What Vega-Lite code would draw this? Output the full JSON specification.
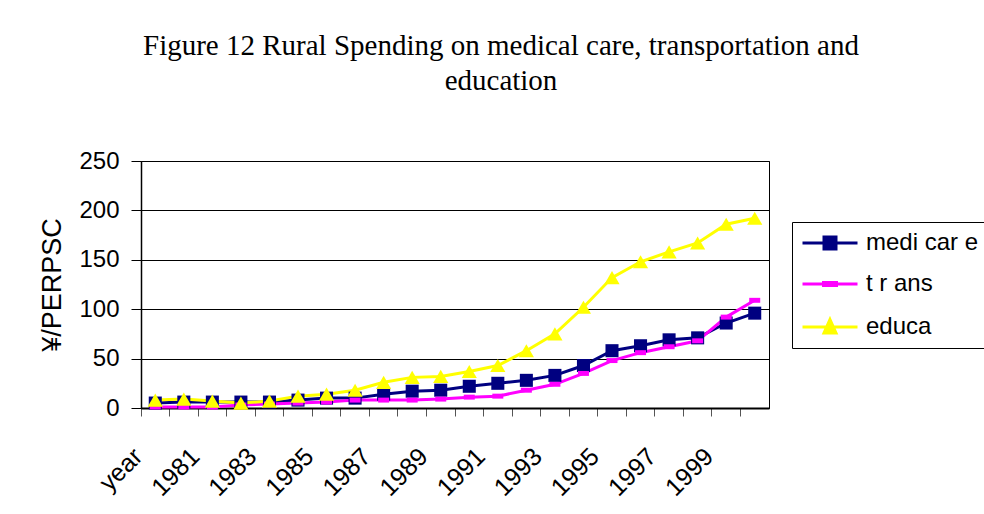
{
  "$schema": "https://vega.github.io/schema/vega-lite/v6.json",
  "width": 628,
  "height": 247,
  "padding": {"left": 38, "top": 32, "right": 0, "bottom": 0},
  "background": "white",
  "title": {
    "text": ["Figure 12 Rural Spending on medical care, transportation and", "education"],
    "font": "Liberation Serif",
    "fontSize": 29,
    "fontWeight": "normal",
    "lineHeight": 35,
    "color": "black",
    "anchor": "middle",
    "dx": 46,
    "offset": 53
  },
  "data": {
    "values": [
      {"year": "year", "series": "medi car e", "value": 5},
      {"year": "1980", "series": "medi car e", "value": 6},
      {"year": "1981", "series": "medi car e", "value": 6},
      {"year": "1982", "series": "medi car e", "value": 6},
      {"year": "1983", "series": "medi car e", "value": 6},
      {"year": "1984", "series": "medi car e", "value": 8},
      {"year": "1985", "series": "medi car e", "value": 10},
      {"year": "1986", "series": "medi car e", "value": 10},
      {"year": "1987", "series": "medi car e", "value": 14},
      {"year": "1988", "series": "medi car e", "value": 17},
      {"year": "1989", "series": "medi car e", "value": 18},
      {"year": "1990", "series": "medi car e", "value": 22},
      {"year": "1991", "series": "medi car e", "value": 25},
      {"year": "1992", "series": "medi car e", "value": 28},
      {"year": "1993", "series": "medi car e", "value": 33},
      {"year": "1994", "series": "medi car e", "value": 43},
      {"year": "1995", "series": "medi car e", "value": 58},
      {"year": "1996", "series": "medi car e", "value": 63},
      {"year": "1997", "series": "medi car e", "value": 69},
      {"year": "1998", "series": "medi car e", "value": 71},
      {"year": "1999", "series": "medi car e", "value": 86},
      {"year": "2000", "series": "medi car e", "value": 96},
      {"year": "year", "series": "t r ans", "value": 1},
      {"year": "1980", "series": "t r ans", "value": 1},
      {"year": "1981", "series": "t r ans", "value": 1},
      {"year": "1982", "series": "t r ans", "value": 3},
      {"year": "1983", "series": "t r ans", "value": 4},
      {"year": "1984", "series": "t r ans", "value": 5},
      {"year": "1985", "series": "t r ans", "value": 6},
      {"year": "1986", "series": "t r ans", "value": 8},
      {"year": "1987", "series": "t r ans", "value": 8},
      {"year": "1988", "series": "t r ans", "value": 8},
      {"year": "1989", "series": "t r ans", "value": 9},
      {"year": "1990", "series": "t r ans", "value": 11},
      {"year": "1991", "series": "t r ans", "value": 12},
      {"year": "1992", "series": "t r ans", "value": 18},
      {"year": "1993", "series": "t r ans", "value": 24},
      {"year": "1994", "series": "t r ans", "value": 35},
      {"year": "1995", "series": "t r ans", "value": 48},
      {"year": "1996", "series": "t r ans", "value": 56},
      {"year": "1997", "series": "t r ans", "value": 62},
      {"year": "1998", "series": "t r ans", "value": 68},
      {"year": "1999", "series": "t r ans", "value": 92},
      {"year": "2000", "series": "t r ans", "value": 109},
      {"year": "year", "series": "educa", "value": 8},
      {"year": "1980", "series": "educa", "value": 9},
      {"year": "1981", "series": "educa", "value": 7},
      {"year": "1982", "series": "educa", "value": 5},
      {"year": "1983", "series": "educa", "value": 7},
      {"year": "1984", "series": "educa", "value": 12},
      {"year": "1985", "series": "educa", "value": 14},
      {"year": "1986", "series": "educa", "value": 18},
      {"year": "1987", "series": "educa", "value": 26},
      {"year": "1988", "series": "educa", "value": 31},
      {"year": "1989", "series": "educa", "value": 32},
      {"year": "1990", "series": "educa", "value": 37},
      {"year": "1991", "series": "educa", "value": 43},
      {"year": "1992", "series": "educa", "value": 58},
      {"year": "1993", "series": "educa", "value": 75},
      {"year": "1994", "series": "educa", "value": 102},
      {"year": "1995", "series": "educa", "value": 132},
      {"year": "1996", "series": "educa", "value": 148},
      {"year": "1997", "series": "educa", "value": 158},
      {"year": "1998", "series": "educa", "value": 167},
      {"year": "1999", "series": "educa", "value": 186},
      {"year": "2000", "series": "educa", "value": 192}
    ]
  },
  "encoding": {
    "x": {
      "field": "year",
      "type": "ordinal",
      "sort": null,
      "bandPosition": 0.5,
      "scale": {"type": "band", "paddingInner": 0, "paddingOuter": 0},
      "axis": {
        "title": null,
        "bandPosition": 0,
        "labelAngle": -45,
        "labelAlign": "right",
        "labelBaseline": "middle",
        "labelFont": "Liberation Sans",
        "labelFontSize": 25,
        "labelColor": "black",
        "labelPadding": 36,
        "labelOffset": -17,
        "labelOverlap": false,
        "labelExpr": "datum.value == 'year' || toNumber(datum.value) % 2 == 1 ? datum.value : ''",
        "tickSize": 8,
        "tickColor": "#555555",
        "domainColor": "black",
        "domainWidth": 2,
        "grid": false
      }
    },
    "y": {
      "field": "value",
      "type": "quantitative",
      "scale": {"domain": [0, 250], "nice": false},
      "axis": {
        "title": "¥/PERPSC",
        "titleFont": "Liberation Sans",
        "titleFontSize": 27,
        "titleFontWeight": "normal",
        "titleColor": "black",
        "titlePadding": 12,
        "values": [0, 50, 100, 150, 200, 250],
        "labelFont": "Liberation Sans",
        "labelFontSize": 24,
        "labelColor": "black",
        "labelPadding": 12,
        "tickSize": 10,
        "tickColor": "black",
        "domainColor": "black",
        "domainWidth": 1.5,
        "grid": true,
        "gridColor": "black",
        "gridWidth": 1
      }
    },
    "color": {
      "field": "series",
      "type": "nominal",
      "scale": {"domain": ["medi car e", "t r ans", "educa"], "range": ["#000080", "#FF00FF", "#FFFF00"]},
      "legend": {
        "title": null,
        "orient": "none",
        "legendX": 651,
        "legendY": 61,
        "labelFont": "Liberation Sans",
        "labelFontSize": 24,
        "labelColor": "black",
        "strokeColor": "black",
        "padding": 9,
        "rowPadding": 17,
        "symbolSize": 400,
        "symbolOffset": 17,
        "labelOffset": 24,
        "symbolStrokeWidth": 3,
        "encode": {
          "symbols": {
            "update": {
              "shape": {"signal": "datum.value == 'medi car e' ? 'M-2.75,0H2.75M-0.6,-0.6H0.6V0.6H-0.6Z' : datum.value == 't r ans' ? 'M-2.75,0H2.75M-0.65,-0.15H0.65V0.15H-0.65Z' : 'M-2.75,0H2.75M0,-0.75L0.6,0.6H-0.6Z'"},
              "fill": {"scale": "color", "field": "value"},
              "stroke": {"scale": "color", "field": "value"},
              "strokeWidth": {"value": 3},
              "size": {"value": 400},
              "opacity": {"value": 1}
            }
          }
        }
      }
    }
  },
  "layer": [
    {
      "mark": {"type": "line", "strokeWidth": 3},
      "encoding": {"order": {"value": null}}
    },
    {
      "transform": [{"filter": "datum.series == 'medi car e'"}],
      "mark": {"type": "point", "filled": true, "opacity": 1, "shape": "square", "size": 170}
    },
    {
      "transform": [{"filter": "datum.series == 't r ans'"}],
      "mark": {"type": "point", "filled": true, "opacity": 1, "shape": "M-1,-0.45H1V0.45H-1Z", "size": 121}
    },
    {
      "transform": [{"filter": "datum.series == 'educa'"}],
      "mark": {"type": "point", "filled": true, "opacity": 1, "shape": "triangle-up", "size": 230}
    }
  ],
  "config": {
    "view": {"stroke": "black", "strokeWidth": 1}
  }
}
